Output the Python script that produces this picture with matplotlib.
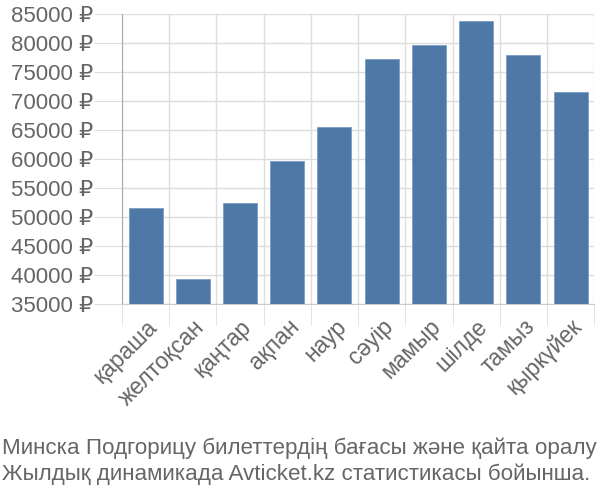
import matplotlib
matplotlib.use("Agg")
import matplotlib.pyplot as plt
import numpy as np

months = ["қараша", "желтоқсан", "қаңтар", "ақпан", "наур", "сәуір",
          "мамыр", "шілде", "тамыз", "қыркүйек"]
prices = [51500, 39300, 52450, 59650, 65450, 77300, 79650, 83850, 77900, 71500]
y_ticks = list(range(35000, 85001, 5000))
caption = ("Минска Подгорицу билеттердің бағасы және қайта оралу\n"
           "Жылдық динамикада Avticket.kz статистикасы бойынша.")

plt.rcParams["font.family"] = ["Liberation Sans", "DejaVu Sans"]

fig = plt.figure(figsize=(6, 5), dpi=100)
ax = fig.add_axes([0.2033, 0.392, 0.787, 0.58])

x = np.arange(len(months))
ax.bar(x, prices, width=0.72, bottom=0, color="#4e79a7",
       edgecolor="#7a9cc4", linewidth=0.6, zorder=3)

ax.set_xlim(-0.5, len(months) - 0.5)
ax.set_ylim(35000, 85000)
ax.set_yticks(y_ticks)
ax.set_yticklabels([f"{v} ₽" for v in y_ticks])
ax.set_xticks(x)
ax.set_xticklabels(months, rotation=45, ha="right", rotation_mode="anchor")
ax.set_xticks(np.arange(-0.5, len(months)), minor=True)

ax.tick_params(axis="y", length=20, color="#dddddd", labelsize=16,
               labelcolor="#666666", pad=1)
ax.tick_params(axis="x", which="major", length=0, labelsize=16.5,
               labelcolor="#666666", pad=8)
ax.tick_params(axis="x", which="minor", length=15, color="#dddddd")

ax.grid(axis="y", color="#dddddd", linewidth=1, zorder=0)
ax.grid(axis="x", which="minor", color="#dddddd", linewidth=1, zorder=0)
for side in ["top", "right"]:
    ax.spines[side].set_visible(False)
ax.spines["left"].set_color("#aaaaaa")
ax.spines["bottom"].set_color("#cccccc")

fig.text(0.003, 0.077, caption, fontsize=16.1, color="#666666",
         va="center", ha="left", linespacing=1.28)

fig.savefig("out.png", dpi=100)
